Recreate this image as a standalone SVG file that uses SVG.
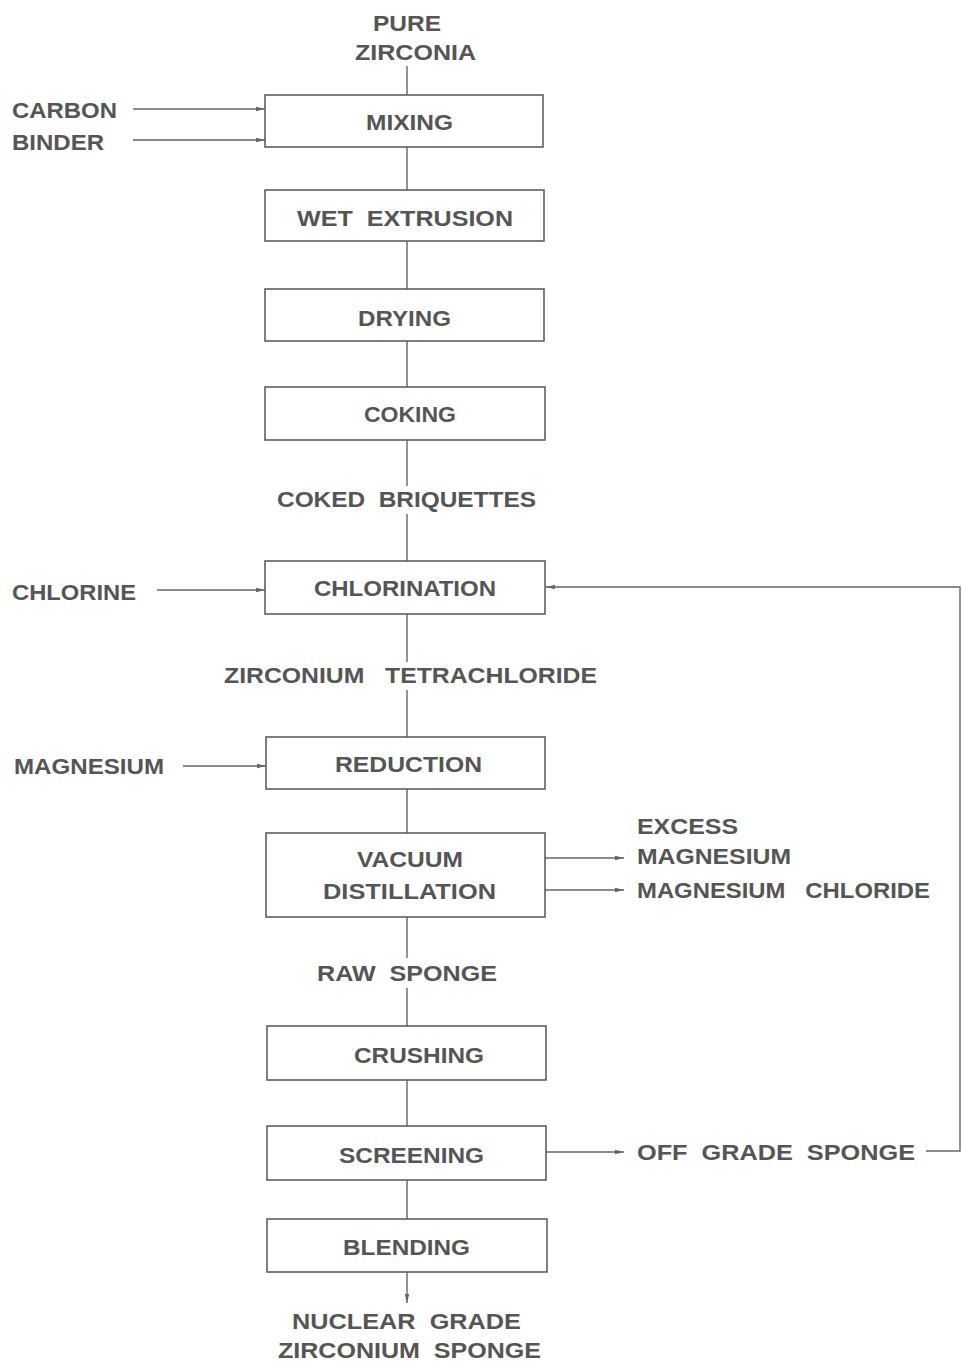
<svg xmlns="http://www.w3.org/2000/svg" width="962" height="1361" viewBox="0 0 962 1361">
<style>
text{font-family:"Liberation Sans",Arial,sans-serif;font-weight:bold;font-size:22px;fill:#555;}
.box{fill:none;stroke:#555;stroke-width:1.5;}
.ln{fill:none;stroke:#666;stroke-width:1.4;}
</style>
<defs>
<marker id="ah" markerWidth="10" markerHeight="6" refX="9" refY="3" orient="auto" markerUnits="userSpaceOnUse">
<path d="M0,0.8 L9,3 L0,5.2 Z" fill="#666"/>
</marker>
</defs>
<rect width="962" height="1361" fill="#fff"/>
<g id="connectors">
<path class="ln" d="M407,66 V95"/>
<path class="ln" d="M407,147 V190"/>
<path class="ln" d="M407,241 V289"/>
<path class="ln" d="M407,341 V387"/>
<path class="ln" d="M407,440 V486 M407,514 V561"/>
<path class="ln" d="M407,614 V662 M407,690 V737"/>
<path class="ln" d="M407,789 V833"/>
<path class="ln" d="M407,917 V958 M407,988 V1026"/>
<path class="ln" d="M407,1080 V1126"/>
<path class="ln" d="M407,1180 V1219"/>
<path class="ln" d="M407,1272 V1303" marker-end="url(#ah)"/>
<path class="ln" d="M133,109 H265" marker-end="url(#ah)"/>
<path class="ln" d="M133,140 H265" marker-end="url(#ah)"/>
<path class="ln" d="M157,590 H265" marker-end="url(#ah)"/>
<path class="ln" d="M183,766 H266" marker-end="url(#ah)"/>
<path class="ln" d="M545,858 H624" marker-end="url(#ah)"/>
<path class="ln" d="M545,890 H624" marker-end="url(#ah)"/>
<path class="ln" d="M546,1152 H624" marker-end="url(#ah)"/>
<path class="ln" d="M926,1151 H960 V587 H546" marker-end="url(#ah)"/>
</g>
<g id="pure-zirconia">
<text x="373" y="31" textLength="68" lengthAdjust="spacingAndGlyphs">PURE</text>
<text x="355" y="60" textLength="121" lengthAdjust="spacingAndGlyphs">ZIRCONIA</text>
</g>
<g id="carbon"><text x="12" y="118" textLength="105" lengthAdjust="spacingAndGlyphs">CARBON</text></g>
<g id="binder"><text x="12" y="150" textLength="92" lengthAdjust="spacingAndGlyphs">BINDER</text></g>
<g id="mixing">
<rect class="box" x="265" y="95" width="278" height="52"/>
<text x="366" y="130" textLength="87" lengthAdjust="spacingAndGlyphs">MIXING</text>
</g>
<g id="wet-extrusion">
<rect class="box" x="265" y="190" width="279" height="51"/>
<text x="297" y="226" textLength="216" lengthAdjust="spacingAndGlyphs" xml:space="preserve">WET  EXTRUSION</text>
</g>
<g id="drying">
<rect class="box" x="265" y="289" width="279" height="52"/>
<text x="358" y="326" textLength="93" lengthAdjust="spacingAndGlyphs">DRYING</text>
</g>
<g id="coking">
<rect class="box" x="265" y="387" width="280" height="53"/>
<text x="364" y="422" textLength="92" lengthAdjust="spacingAndGlyphs">COKING</text>
</g>
<g id="coked-briquettes">
<text x="277" y="507" textLength="259" lengthAdjust="spacingAndGlyphs" xml:space="preserve">COKED  BRIQUETTES</text>
</g>
<g id="chlorine"><text x="12" y="600" textLength="124" lengthAdjust="spacingAndGlyphs">CHLORINE</text></g>
<g id="chlorination">
<rect class="box" x="265" y="561" width="280" height="53"/>
<text x="314" y="596" textLength="182" lengthAdjust="spacingAndGlyphs">CHLORINATION</text>
</g>
<g id="zirconium-tetrachloride">
<text x="224" y="683" textLength="373" lengthAdjust="spacingAndGlyphs" xml:space="preserve">ZIRCONIUM   TETRACHLORIDE</text>
</g>
<g id="magnesium"><text x="14" y="774" textLength="150" lengthAdjust="spacingAndGlyphs">MAGNESIUM</text></g>
<g id="reduction">
<rect class="box" x="266" y="737" width="279" height="52"/>
<text x="335" y="772" textLength="147" lengthAdjust="spacingAndGlyphs">REDUCTION</text>
</g>
<g id="vacuum-distillation">
<rect class="box" x="266" y="833" width="279" height="84"/>
<text x="357" y="867" textLength="106" lengthAdjust="spacingAndGlyphs">VACUUM</text>
<text x="323" y="899" textLength="173" lengthAdjust="spacingAndGlyphs">DISTILLATION</text>
</g>
<g id="excess-magnesium">
<text x="637" y="834" textLength="101" lengthAdjust="spacingAndGlyphs">EXCESS</text>
<text x="637" y="864" textLength="154" lengthAdjust="spacingAndGlyphs">MAGNESIUM</text>
</g>
<g id="magnesium-chloride">
<text x="637" y="898" textLength="293" lengthAdjust="spacingAndGlyphs" xml:space="preserve">MAGNESIUM   CHLORIDE</text>
</g>
<g id="raw-sponge">
<text x="317" y="981" textLength="180" lengthAdjust="spacingAndGlyphs" xml:space="preserve">RAW  SPONGE</text>
</g>
<g id="crushing">
<rect class="box" x="267" y="1026" width="279" height="54"/>
<text x="354" y="1063" textLength="130" lengthAdjust="spacingAndGlyphs">CRUSHING</text>
</g>
<g id="screening">
<rect class="box" x="267" y="1126" width="279" height="54"/>
<text x="339" y="1163" textLength="145" lengthAdjust="spacingAndGlyphs">SCREENING</text>
</g>
<g id="off-grade-sponge">
<text x="637" y="1160" textLength="278" lengthAdjust="spacingAndGlyphs" xml:space="preserve">OFF  GRADE  SPONGE</text>
</g>
<g id="blending">
<rect class="box" x="267" y="1219" width="280" height="53"/>
<text x="343" y="1255" textLength="127" lengthAdjust="spacingAndGlyphs">BLENDING</text>
</g>
<g id="nuclear-grade-zirconium-sponge">
<text x="292" y="1329" textLength="229" lengthAdjust="spacingAndGlyphs" xml:space="preserve">NUCLEAR  GRADE</text>
<text x="278" y="1358" textLength="263" lengthAdjust="spacingAndGlyphs" xml:space="preserve">ZIRCONIUM  SPONGE</text>
</g>
</svg>
